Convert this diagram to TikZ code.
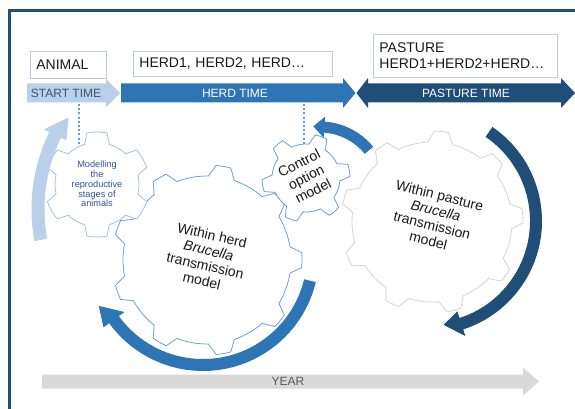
\documentclass[tikz,border=0pt]{standalone}
\usepackage{fontspec}
\setmainfont{Liberation Sans}
\usetikzlibrary{calc}

\definecolor{navy}{RGB}{31,78,121}
\definecolor{midblue}{RGB}{46,117,182}
\definecolor{paleblue}{RGB}{185,208,234}
\definecolor{gearblue}{RGB}{110,160,212}
\definecolor{gearpale}{RGB}{160,193,228}
\definecolor{geargrey}{RGB}{212,212,212}
\definecolor{boxline}{RGB}{190,205,225}
\definecolor{bandgrey}{RGB}{217,217,217}
\definecolor{yeartext}{RGB}{89,89,89}
\definecolor{slatetext}{RGB}{68,84,106}
\definecolor{smalltext}{RGB}{47,85,151}
\definecolor{dotblue}{RGB}{100,155,215}

% cog wheel: #1 centre, #2 teeth, #3 root radius, #4 tip radius,
% #5 angle of first tooth, #6 half angle at root, #7 half angle at tip, #8 style
\newcommand\cogwheel[8]{%
  \begin{scope}[shift={#1}]
    \pgfmathsetmacro\cogstep{360/#2}
    \draw[#8] ({#5-#6}:#3)
      \foreach \k in {1,...,#2}{
        -- ({#5+(\k-1)*\cogstep-#7}:#4)
        arc[start angle={#5+(\k-1)*\cogstep-#7}, end angle={#5+(\k-1)*\cogstep+#7}, radius=#4]
        -- ({#5+(\k-1)*\cogstep+#6}:#3)
        arc[start angle={#5+(\k-1)*\cogstep+#6}, end angle={#5+\k*\cogstep-#6}, radius=#3]
      } -- cycle;
  \end{scope}}

% curved block arrow: #1 centre, #2 mid radius, #3 half width, #4 tail angle,
% #5 head base angle, #6 tip angle, #7 tip radius, #8 head half width, #9 colour
\newcommand\roundarrow[9]{%
  \begin{scope}[shift={#1}]
    \fill[#9] ({#4}:{#2+#3}) arc[start angle={#4}, end angle={#5}, radius={#2+#3}]
      -- ({#5}:{#2+#8}) -- ({#6}:{#7}) -- ({#5}:{#2-#8}) -- ({#5}:{#2-#3})
      arc[start angle={#5}, end angle={#4}, radius={#2-#3}] -- cycle;
  \end{scope}}

\tikzset{
  labelbox/.style={draw=boxline, line width=0.8pt, fill=white, inner xsep=6pt,
    inner ysep=0pt, anchor=north west, align=left, text=black!90,
    font=\fontsize{14}{18}\selectfont},
  bandtext/.style={inner sep=0pt, font=\fontsize{12}{14}\selectfont},
  geartext/.style={inner sep=0pt, align=center, text=black!90,
    font=\fontsize{14}{15.5}\selectfont},
  smallgeartext/.style={inner sep=0pt, align=center, text=smalltext,
    font=\fontsize{9.2}{9.8}\selectfont},
  gearline/.style={line width=0.8pt, fill=white, line join=round},
  dotline/.style={dotblue, line width=2.2pt, dash pattern=on 2pt off 2.2pt},
}

\begin{document}
\begin{tikzpicture}[x=1pt,y=1pt]
\path[use as bounding box, fill=white] (0,0) rectangle (575,-409);

% outer frame
\draw[navy, line width=2.6pt] (9.5,-409) -- (9.5,-10.5) -- (577,-10.5);

% labels above the timeline
\node[labelbox, text width=64pt, minimum height=27pt] (animal) at (30,-51) {ANIMAL};
\node[labelbox, text width=187pt, minimum height=25pt] (herds) at (133,-51) {HERD1, HERD2, HERD\ldots};
\node[labelbox, text width=172pt, minimum height=43pt] (pasture) at (373,-34)
  {PASTURE\\[-2pt]HERD1+HERD2+HERD\ldots};

% timeline
\fill[paleblue] (27,-83.5) -- (106,-83.5) -- (106,-79) -- (120,-93) -- (106,-107)
  -- (106,-102.5) -- (27,-102.5) -- cycle;
\fill[midblue] (121,-83.5) -- (343,-83.5) -- (343,-78) -- (355.5,-93) -- (343,-108)
  -- (343,-102.5) -- (121,-102.5) -- cycle;
\fill[navy] (356.5,-93) -- (368,-78) -- (368,-83.5) -- (561,-83.5) -- (561,-78)
  -- (575,-93) -- (561,-108) -- (561,-102.5) -- (368,-102.5) -- (368,-108) -- cycle;
\node[bandtext, text=slatetext] (starttime) at (66,-93) {START TIME};
\node[bandtext, text=white] (herdtime) at (235,-93) {HERD TIME};
\node[bandtext, text=white] (pasturetime) at (466,-93) {PASTURE TIME};

% year bar
\fill[bandgrey] (42,-374.5) -- (523,-374.5) -- (523,-367.5) -- (539,-381.5)
  -- (523,-395.5) -- (523,-388.5) -- (42,-388.5) -- cycle;
\node[bandtext, text=yeartext] (year) at (288,-381.5) {YEAR};

% cog wheels
\cogwheel{(432,-222)}{9}{80}{91}{4}{9}{4.5}{gearline, draw=geargrey}
\cogwheel{(207,-260)}{9}{84}{95}{0}{9}{4.5}{gearline, draw=gearblue}
\cogwheel{(97,-184.5)}{6}{42}{52.5}{30}{17}{11}{gearline, draw=gearpale}
\cogwheel{(306,-178)}{6}{34}{44}{10}{15}{8}{gearline, draw=gearblue}

% links from the timeline down to the models
\coordinate (startfoot) at (79,-104);
\coordinate (modeltop) at (79,-146);
\coordinate (herdfoot) at (304,-104);
\coordinate (controltop) at (304,-144);
\draw[dotline] (startfoot) -- (modeltop);
\draw[dotline] (herdfoot) -- (controltop);

% cycle arrows
\roundarrow{(207,-209)}{169}{6.5}{190.5}{154}{146.5}{166}{12.5}{paleblue}
\roundarrow{(203,-255)}{110}{6}{-13.5}{-144}{-154}{116}{13}{midblue}
\roundarrow{(320,-190)}{63}{5.5}{39}{86}{96}{64}{10.5}{midblue}
\roundarrow{(428,-221)}{108}{6}{55.6}{-72}{-81.5}{105}{13}{navy}

% model names
\node[smallgeartext] (reproduction) at (97,-184) {Modelling\\the\\reproductive\\stages of\\animals};
\node[geartext, rotate=-13] (withinherd) at (207,-258)
  {Within herd\\\textit{Brucella}\\transmission\\model};
\node[geartext, rotate=-14] (withinpasture) at (434,-218)
  {Within pasture\\\textit{Brucella}\\transmission\\model};
\node[geartext, rotate=27] (control) at (306,-177) {Control\\option\\model};
\end{tikzpicture}
\end{document}
